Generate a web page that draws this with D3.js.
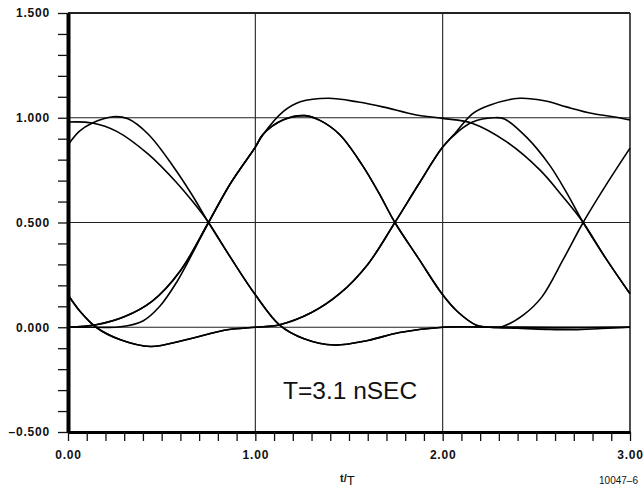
<!DOCTYPE html>
<html>
<head>
<meta charset="utf-8">
<script src="https://cdn.jsdelivr.net/npm/d3@7"></script>
<style>
  body { margin: 0; background: #fff; }
  svg { display: block; }
  .tick text { font-family: "Liberation Sans", Arial, sans-serif; font-weight: bold; font-size: 12px; letter-spacing: 0.8px; fill: #111; }
  .tick line { stroke: #111; stroke-width: 1.3; }
  .domain { stroke: #000; }
  .grid { stroke: #222; stroke-width: 1.1; }
  .trace { fill: none; stroke: #000; stroke-width: 1.6; }
</style>
</head>
<body>
<svg id="chart" width="644" height="489"></svg>
<script>
// Eye diagram pieces as [t/T, amplitude]
const seg0A = [[0,0.98],[0.13,0.975],[0.26,0.935],[0.43,0.825],[0.58,0.69],[0.67,0.595],[0.75,0.5],[0.87,0.33],[1.0,0.155]];
const seg0B = [[0,0.87],[0.06,0.935],[0.13,0.975],[0.24,1.005],[0.32,0.995],[0.43,0.92],[0.56,0.77],[0.66,0.635],[0.75,0.5],[0.87,0.33],[1.0,0.155]];
const seg0C = [[0,0.155],[0.065,0.075],[0.15,0.0],[0.28,-0.06],[0.44,-0.092],[0.63,-0.06],[0.85,-0.012],[1.0,0.0]];
const seg0D = [[0,0],[0.15,0.012],[0.3,0.05],[0.45,0.125],[0.6,0.27],[0.75,0.5],[0.87,0.69],[1.0,0.86]];
const seg0E = [[0,0],[0.15,0],[0.28,0.002],[0.4,0.03],[0.49,0.1],[0.58,0.215],[0.66,0.345],[0.75,0.5],[0.87,0.69],[1.0,0.86]];

const seg1Trough = [[1.0,0.155],[1.13,0.01],[1.26,-0.055],[1.42,-0.085],[1.6,-0.063],[1.77,-0.025],[2.0,0.0]];
const seg1Rise = [[1.0,0.0],[1.13,0.012],[1.3,0.07],[1.45,0.16],[1.6,0.3],[1.745,0.5],[1.87,0.68],[2.0,0.86]];
const seg1Peak = [[1.0,0.86],[1.04,0.92],[1.15,0.99],[1.265,1.01],[1.35,0.985],[1.45,0.92],[1.57,0.775],[1.66,0.64],[1.745,0.5],[1.87,0.33],[2.0,0.155]];
const seg1Hump = [[1.0,0.86],[1.04,0.918],[1.15,1.03],[1.24,1.076],[1.39,1.093],[1.55,1.075],[1.68,1.052],[1.86,1.013],[2.0,0.997]];

const seg2A = [[2.0,0.997],[2.16,0.973],[2.34,0.886],[2.52,0.75],[2.64,0.625],[2.75,0.5],[2.87,0.33],[3.0,0.16]];
const seg2B = [[2.0,0.86],[2.09,0.94],[2.16,0.98],[2.27,1.0],[2.33,0.994],[2.45,0.905],[2.57,0.775],[2.66,0.645],[2.75,0.5],[2.87,0.33],[3.0,0.16]];
const seg2Hump = [[2.0,0.86],[2.07,0.93],[2.16,1.02],[2.25,1.06],[2.41,1.093],[2.55,1.08],[2.66,1.052],[2.8,1.02],[2.91,1.005],[3.0,0.99]];
const seg2Fall = [[2.0,0.155],[2.08,0.074],[2.18,0.01],[2.25,0.0]];
const seg2RiseE = [[2.25,0],[2.32,0.004],[2.43,0.058],[2.53,0.145],[2.645,0.326],[2.75,0.5],[2.88,0.69],[3.0,0.855]];
const seg2FlatDip = [[2.25,0],[2.4,-0.005],[2.55,-0.01],[2.7,-0.012],[2.85,-0.006],[3.0,0.0]];
const seg2Flat = [[2.0,0.0],[2.3,0.0],[2.6,-0.002],[3.0,0.0]];

// which pieces make up each trace
const traces = [
  [seg0A, seg1Trough, seg2Flat],
  [seg0B, seg1Trough, seg2Flat],
  [seg0C, seg1Rise, seg2B],
  [seg0C, seg1Rise, seg2Hump],
  [seg0D, seg1Peak, seg2Fall, seg2RiseE],
  [seg0E, seg1Hump, seg2A],
  [seg0D, seg1Peak, seg2Fall, seg2FlatDip]
];

const yLabels = [-0.5, 0, 0.5, 1.0, 1.5];
const xLabels = [0, 1, 2, 3];
const yGrid = [0, 0.5, 1.0, 1.5];
const xGrid = [1, 2, 3];
const noteText = "T=3.1 nSEC";
const figId = "10047\u20136";

const svg = d3.select("#chart");
const x = d3.scaleLinear().domain([0, 3]).range([68, 630]);
const y = d3.scaleLinear().domain([-0.5, 1.5]).range([432, 13]);

// grid
svg.selectAll(".hgrid").data(yGrid).enter().append("line")
  .attr("class", "grid")
  .attr("x1", x(0)).attr("x2", x(3))
  .attr("y1", d => y(d)).attr("y2", d => y(d))
  .style("stroke-width", d => d === 1.5 ? 2 : 1.1);
svg.selectAll(".vgrid").data(xGrid).enter().append("line")
  .attr("class", "grid")
  .attr("x1", d => x(d)).attr("x2", d => x(d))
  .attr("y1", y(1.5)).attr("y2", y(-0.5))
  .style("stroke-width", d => d === 3 ? 1.6 : 1.1);

// traces
const line = d3.line()
  .x(d => x(d[0]))
  .y(d => y(d[1]))
  .curve(d3.curveCatmullRom.alpha(0.5));

traces.forEach(parts => {
  let pts = [];
  parts.forEach((p, i) => { pts = pts.concat(i === 0 ? p : p.slice(1)); });
  svg.append("path").attr("class", "trace").attr("d", line(pts));
});

// axes
const fmtY = d => {
  const s = Math.abs(d).toFixed(3);
  return d < 0 ? "\u2013" + s : s;
};
const yTicks = d3.range(-5, 16).map(k => k / 10);
const xTicks = d3.range(0, 31).map(k => k / 10);

const yAxis = svg.append("g").attr("transform", `translate(${x(0)},0)`)
  .call(d3.axisLeft(y).tickValues(yTicks).tickSize(10).tickSizeOuter(0).tickPadding(8)
    .tickFormat(d => yLabels.some(v => Math.abs(v - d) < 1e-6) ? fmtY(d) : ""));
yAxis.select(".domain").style("stroke-width", 4);

const xAxis = svg.append("g").attr("transform", `translate(0,${y(-0.5)})`)
  .call(d3.axisBottom(x).tickValues(xTicks).tickSize(9).tickSizeOuter(0).tickPadding(9)
    .tickFormat(d => xLabels.some(v => Math.abs(v - d) < 1e-6) ? d.toFixed(2) : ""));
xAxis.select(".domain").style("stroke-width", 3);

// labels
const title = svg.append("text")
  .attr("x", 340).attr("y", 485)
  .style("font-family", "Liberation Sans, Arial, sans-serif")
  .style("font-weight", "bold")
  .style("fill", "#111");
title.append("tspan").attr("font-size", "11px").attr("dy", -3).text("t");
title.append("tspan").attr("font-size", "11px").text("/");
title.append("tspan").attr("font-size", "13px").attr("font-weight", "normal").attr("dy", 3).text("T");

svg.append("text")
  .attr("x", 283).attr("y", 399)
  .style("font-family", "Liberation Sans, Arial, sans-serif")
  .style("font-size", "24.5px")
  .style("fill", "#111")
  .text(noteText);

svg.append("text")
  .attr("x", 638).attr("y", 484)
  .attr("text-anchor", "end")
  .style("font-family", "Liberation Sans, Arial, sans-serif")
  .style("font-size", "10px")
  .style("fill", "#111")
  .text(figId);
</script>
</body>
</html>
